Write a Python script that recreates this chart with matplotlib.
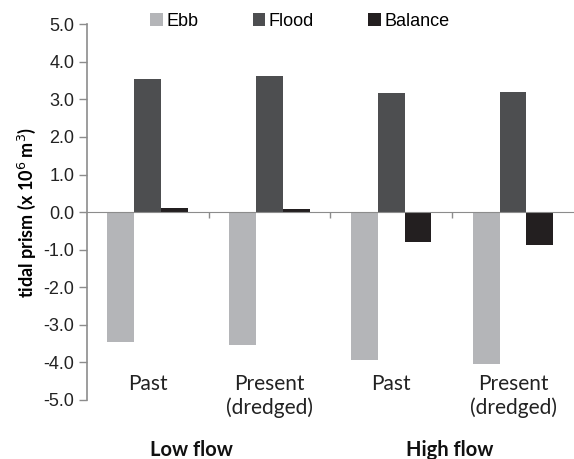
import numpy as np
import matplotlib
matplotlib.use("Agg")
import matplotlib.pyplot as plt
from matplotlib.patches import Patch

# ---------- data ----------
CATEGORIES = ["Past", "Present\n(dredged)", "Past", "Present\n(dredged)"]
GROUPS = ["Low flow", "High flow"]
SERIES = ["Ebb", "Flood", "Balance"]
EBB = [-3.45, -3.53, -3.95, -4.06]
FLOOD = [3.55, 3.63, 3.16, 3.21]
BALANCE = [0.12, 0.08, -0.80, -0.87]
Y_TICKS = [-5.0, -4.0, -3.0, -2.0, -1.0, 0.0, 1.0, 2.0, 3.0, 4.0, 5.0]

COLORS = ["#b4b5b8", "#4d4e50", "#231f20"]
AXIS_GRAY = "#8c8c8c"
LABEL_FONT = ["Lato", "DejaVu Sans"]
TICK_FONT = ["Liberation Sans", "DejaVu Sans"]

fig = plt.figure(figsize=(5.74, 4.59), dpi=100)
ax = fig.add_axes([0.151, 0.129, 0.849, 0.818])

x = np.arange(len(CATEGORIES))
width = 0.22
for i, (vals, color, name) in enumerate(zip([EBB, FLOOD, BALANCE], COLORS, SERIES)):
  ax.bar(x + (i - 1) * width, vals, width, color=color, label=name, zorder=2)

ax.set_xlim(-0.5, len(CATEGORIES) - 0.5)
ax.set_ylim(-5, 5)
ax.set_yticks(Y_TICKS)
ax.set_yticklabels([f"{v:.1f}" for v in Y_TICKS], fontsize=13, family=TICK_FONT, color="#222222")
ax.tick_params(axis="y", direction="out", length=6, width=1, color=AXIS_GRAY, pad=3)

# x axis runs through zero, with small ticks between categories
ax.spines["bottom"].set_position(("data", 0))
ax.spines["bottom"].set_color(AXIS_GRAY)
ax.spines["bottom"].set_zorder(3)
ax.spines["left"].set_color(AXIS_GRAY)
ax.spines["left"].set_linewidth(1.2)
ax.spines["top"].set_visible(False)
ax.spines["right"].set_visible(False)
ax.set_xticks(x[:-1] + 0.5)
ax.set_xticklabels([])
ax.tick_params(axis="x", direction="out", length=4, width=1, color=AXIS_GRAY)

for xi, lab in zip(x, CATEGORIES):
  ax.text(xi, -4.3, lab, ha="center", va="top", fontsize=15, family=LABEL_FONT,
          color="#222222", linespacing=1.25, clip_on=False)

for gx, g in zip([0.36, 2.48], GROUPS):
  ax.text(gx, -6.35, g, ha="center", va="center", fontsize=14.5, fontweight="bold",
          family=LABEL_FONT, color="#111111", clip_on=False)

ax.set_ylabel("tidal prism (x 10$^6$ m$^3$)", fontsize=13, fontweight="bold",
              family=LABEL_FONT, labelpad=4)

handles = [Patch(facecolor=c) for c in COLORS]
fig.legend(handles, SERIES, loc="center", bbox_to_anchor=(300 / 574, 1 - 21 / 459), ncol=3,
           frameon=False, handlelength=0.7, handleheight=0.7, handletextpad=0.2,
           columnspacing=3.0, prop={"family": TICK_FONT, "size": 13})

fig.savefig("out.png", dpi=100)
